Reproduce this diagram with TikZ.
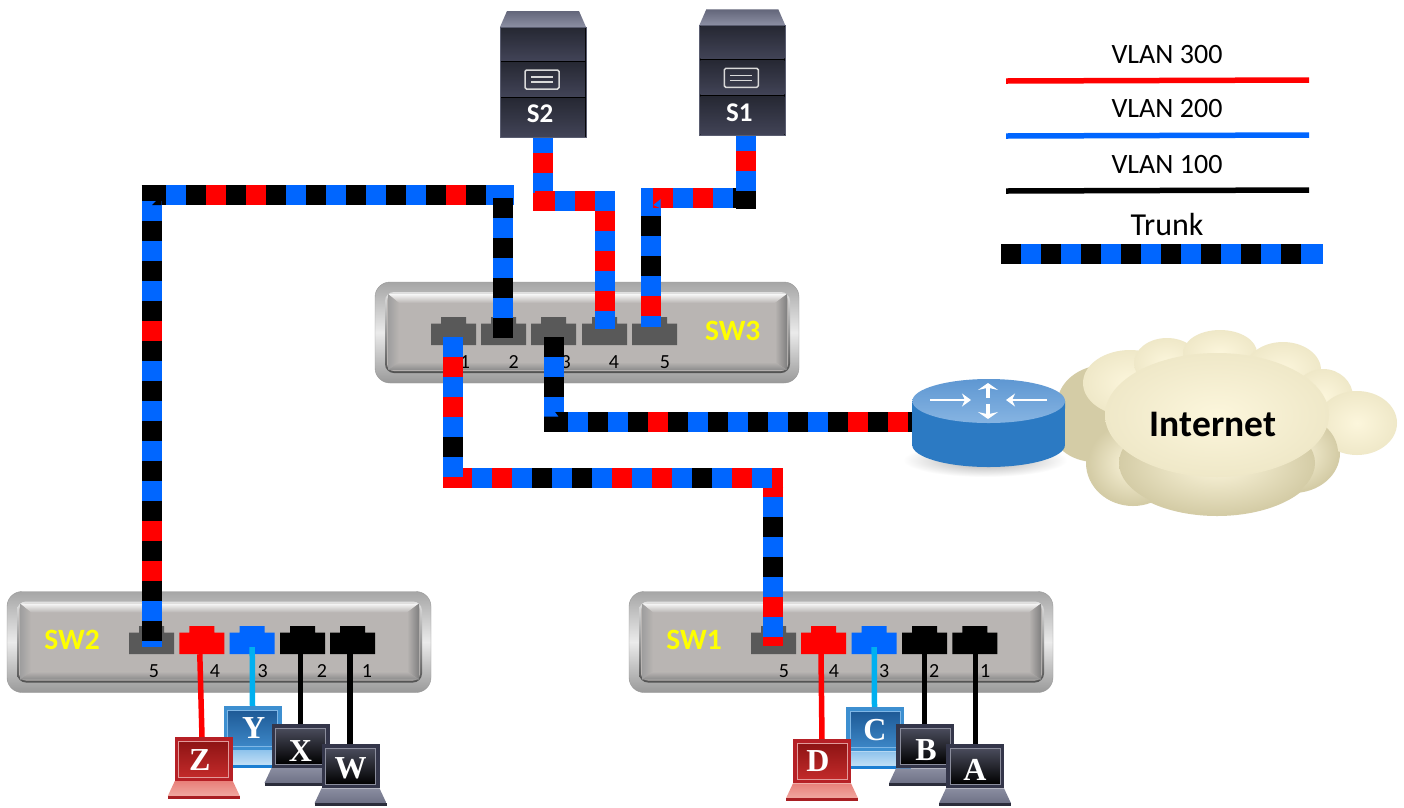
\documentclass[tikz,border=0pt]{standalone}
\usepackage{fontspec}
\setmainfont{Carlito}
\newfontfamily\lapfont{Liberation Serif}
\usepackage{xcolor}
\usepackage{tikz}
\usetikzlibrary{arrows.meta,shapes.geometric}
\definecolor{vk}{HTML}{000000}
\definecolor{vb}{HTML}{0066FF}
\definecolor{vr}{HTML}{FF0000}
\definecolor{vc}{HTML}{00B0F0}
\definecolor{portgrey}{HTML}{595959}
\definecolor{swface}{HTML}{B9B5B3}
\definecolor{swyellow}{HTML}{FFFF00}
\definecolor{cloudedge}{HTML}{D4CCA6}
\definecolor{cloudmid}{HTML}{EFE8C8}
\definecolor{cloudin}{HTML}{FCF6DC}
\definecolor{rtside}{HTML}{2C7AC3}
\definecolor{rtmid}{HTML}{5A9BDB}
\definecolor{rttopa}{HTML}{5E97D2}
\definecolor{rttopb}{HTML}{86B4E2}
\definecolor{srvtopa}{HTML}{63667A}
\definecolor{srvtopb}{HTML}{8C8FA3}
\definecolor{srvedge}{HTML}{5A5D70}
\definecolor{srvband}{HTML}{262833}
\definecolor{srvbandb}{HTML}{414356}
\definecolor{darkframe}{HTML}{34364A}
\definecolor{darkpanelt}{HTML}{4A4C5C}
\definecolor{darkpanelb}{HTML}{000000}
\definecolor{darkedge}{HTML}{8B8D9C}
\definecolor{darkbaset}{HTML}{8A8DA0}
\definecolor{darkbaseb}{HTML}{6E7186}
\definecolor{darkstrip}{HTML}{2B2D3B}
\definecolor{blueframe}{HTML}{3D8FD0}
\definecolor{bluepanelt}{HTML}{1E5A96}
\definecolor{bluepanelb}{HTML}{3C86C6}
\definecolor{blueedge}{HTML}{7FB7E6}
\definecolor{bluebaset}{HTML}{8FC3EC}
\definecolor{bluebaseb}{HTML}{C3E0F6}
\definecolor{bluestrip}{HTML}{1B7ED2}
\definecolor{redframe}{HTML}{B62026}
\definecolor{redpanelt}{HTML}{8E1414}
\definecolor{redpanelb}{HTML}{C22A2A}
\definecolor{rededge}{HTML}{E29A9A}
\definecolor{redbaset}{HTML}{E8807A}
\definecolor{redbaseb}{HTML}{F0A8A0}
\definecolor{redstrip}{HTML}{A81E22}
\tikzset{
  trunkline/.style={line width=20pt},
  accessline/.style={line width=5.5pt},
  legendline/.style={line width=5.5pt},
  legendtext/.style={font=\fontsize{28}{30}\selectfont},
  portbox/.style={inner sep=0pt, minimum width=45pt, minimum height=28pt},
  portnum/.style={font=\fontsize{20}{22}\selectfont, inner sep=0pt},
  swname/.style={font=\fontsize{29.5}{32}\selectfont\bfseries, text=swyellow, inner sep=0pt},
  swbody/.style={rounded corners=15pt, inner sep=0pt, minimum width=424pt, minimum height=101pt,
    draw=black!40, top color=black!35, bottom color=black!40, middle color=black!8},
  srvname/.style={font=\fontsize{27}{30}\selectfont\bfseries, text=white, inner sep=0pt},
  lapscreen/.style={inner sep=0pt, minimum width=58pt, minimum height=44pt},
  lapletter/.style={font=\lapfont\fontsize{32}{34}\selectfont\bfseries, text=white, inner sep=0pt},
  rtarrow/.style={white, line width=2.5pt, -{Stealth[length=9pt,width=13pt]}},
  rtarrowv/.style={white, line width=4pt, -{Stealth[length=7pt,width=20pt]}}
}
% one leg of a trunk: [lead] from, to, colours (20pt each)
\newcommand{\DrawTrunk}[4][0]{%
  \foreach \tkcol [count=\tki from 0] in {#4} {
    \pgfmathsetmacro{\tkoff}{20*\tki}
    \draw[trunkline, draw=\tkcol, dash pattern=on 0pt off \tkoff pt on 20pt off 3000pt, dash phase=#1pt] #2 -- #3;
  }
}
\newcommand{\DrawPort}[4]{% name, left, top, colour
  \begin{scope}[shift={(#2,#3)}]
    \fill[#4] (0,28) -- (0,6.5) -- (10,6.5) -- (10,0) -- (35,0) -- (35,6.5) -- (45,6.5) -- (45,28) -- cycle;
    \node[portbox] (#1) at (22.5,14) {};
  \end{scope}
}
\newcommand{\DrawSwitch}[3]{% name, left, top
  \begin{scope}[shift={(#2,#3)}]
    \node[swbody] (#1) at (212,50.5) {};
    \shade[top color=black!12, bottom color=black!68, rounded corners=9pt] (10,10) rectangle (415,91);
    \fill[swface, rounded corners=7pt] (12,12) rectangle (413,89);
    \shade[top color=white!97!black, bottom color=swface] (13,12) -- (412,12) -- (400,21) -- (24,21) -- cycle;
    \shade[left color=black!38, right color=swface] (13,12) -- (24,21) -- (24,80) -- (13,88) -- cycle;
    \shade[right color=black!50, left color=swface] (412,12) -- (400,21) -- (400,80) -- (412,88) -- cycle;
    \shade[bottom color=black!45, top color=swface] (13,88) -- (24,80) -- (400,80) -- (412,88) -- cycle;
  \end{scope}
}
\newcommand{\DrawLaptop}[6]{% name, centre, top, palette, letter, letter position
  \begin{scope}[shift={(#2,#3)}]
    \shade[top color=#4baset, bottom color=#4baseb] (-29,44) -- (29,44) -- (36,59) -- (-36,59) -- cycle;
    \fill[#4strip] (-36,59) rectangle (36,62);
    \node[lapscreen, fill=#4frame] (#1) at (0,22) {};
    \shade[top color=#4panelt, bottom color=#4panelb, draw=#4edge, line width=0.8pt] (-25,4) rectangle (25,40);
    \node[lapletter] (#1name) at #6 {#5};
  \end{scope}
}
\newcommand{\DrawServer}[4]{% name, left, top, label
  \begin{scope}[shift={(#2,#3)}]
    \shade[top color=srvtopa, bottom color=srvtopb] (7,0) -- (79,0) -- (86,16) -- (0,16) -- cycle;
    \node[inner sep=0pt, minimum width=86pt, minimum height=110pt, fill=black, draw=srvedge] (#1) at (43,71) {};
    \foreach \bandt/\bandb in {17/49, 51/85, 87/125} {
      \shade[top color=srvband, bottom color=srvbandb] (1,\bandt) rectangle (85,\bandb);
    }
    \draw[white!85!black, line width=1.5pt, rounded corners=1.5pt] (25,59) rectangle (59,78);
    \draw[white!85!black, line width=1.2pt] (31,66) -- (53,66) (31,71) -- (53,71);
    \node[srvname] (#1name) at (40,103) {#4};
  \end{scope}
}

\begin{document}
\begin{tikzpicture}[x=1pt,y=-1pt]
  \useasboundingbox (0,0) rectangle (1404,807);
  \fill[white] (0,0) rectangle (1404,807);
  % legend
  \node[legendtext] (l300) at (1167,55) {VLAN 300};
  \node[legendtext] (l200) at (1167,109) {VLAN 200};
  \node[legendtext] (l100) at (1167,165) {VLAN 100};
  \node[legendtext, font=\fontsize{32}{34}\selectfont] (ltrunk) at (1167,224) {Trunk};
  \draw[legendline, draw=vr] (1006,81) -- (1309,80);
  \draw[legendline, draw=vb] (1006,136) -- (1309,135);
  \draw[legendline, draw=vk] (1006,191) -- (1309,190);
  \DrawTrunk{(1001,254)}{(1323,254)}{vk,vb,vk,vb,vk,vb,vk,vb,vk,vb,vk,vb,vk,vb,vk,vb,vb}
  % switches
  \DrawSwitch{sw3}{375}{282}
  \DrawSwitch{sw2}{7}{591.5}
  \DrawSwitch{sw1}{629}{591.5}
  \node[swname] (sw3name) at (732.7,331) {SW3};
  \node[swname] (sw2name) at (72,640) {SW2};
  \node[swname] (sw1name) at (694,640) {SW1};
  \foreach \pn/\px in {1/431,2/481,3/531,4/582,5/632} {
    \DrawPort{sw3p\pn}{\px}{317}{portgrey}
  }
  \DrawPort{sw2p5}{129}{626}{portgrey}
  \DrawPort{sw2p4}{179.3}{626}{vr}
  \DrawPort{sw2p3}{229.7}{626}{vb}
  \DrawPort{sw2p2}{280}{626}{vk}
  \DrawPort{sw2p1}{330}{626}{vk}
  \DrawPort{sw1p5}{751}{626}{portgrey}
  \DrawPort{sw1p4}{801}{626}{vr}
  \DrawPort{sw1p3}{851.7}{626}{vb}
  \DrawPort{sw1p2}{902}{626}{vk}
  \DrawPort{sw1p1}{952.3}{626}{vk}
  \foreach \pn/\px in {1/465,2/513.7,3/565.7,4/614,5/665} {
    \node[portnum] (sw3n\pn) at (\px,362) {\pn};
  }
  \foreach \pn/\px in {1/367,2/322,3/262.7,4/215,5/154} {
    \node[portnum] (sw2n\pn) at (\px,671) {\pn};
  }
  \foreach \pn/\px in {1/985.3,2/934.3,3/884.3,4/834,5/784} {
    \node[portnum] (sw1n\pn) at (\px,671) {\pn};
  }
  % laptops and their access links
  \coordinate (ytop) at (252.5,706);
  \coordinate (ctop) at (874.5,707);
  \draw[accessline, draw=vr] ([xshift=-2pt]sw2p4.south) -- (202,737);
  \draw[accessline, draw=vc] ([yshift=7pt]sw2p3.south) -- (ytop);
  \draw[accessline, draw=vk] (300.7,654) -- (300.7,724);
  \draw[accessline, draw=vk] (350,654) -- (350,745);
  \draw[accessline, draw=vr] (821,654) -- (822,740);
  \draw[accessline, draw=vc] ([yshift=7pt]sw1p3.south) -- (ctop);
  \draw[accessline, draw=vk] (sw1p2.south) -- (924.5,724);
  \draw[accessline, draw=vk] (975.5,654) -- (975.5,745);
  \DrawLaptop{y}{252.8}{706}{blue}{Y}{(1,22)}
  \DrawLaptop{z}{203.8}{737}{red}{Z}{(-4,23)}
  \DrawLaptop{x}{300.5}{724}{dark}{X}{(0,27)}
  \DrawLaptop{w}{350.5}{744.3}{dark}{W}{(0,24)}
  \DrawLaptop{c}{875}{707.3}{blue}{C}{(0,23)}
  \DrawLaptop{d}{822}{739.3}{red}{D}{(-4,22)}
  \DrawLaptop{b}{925}{724.3}{dark}{B}{(1,26)}
  \DrawLaptop{a}{975}{744.3}{dark}{A}{(0,26)}
  % trunk SW2 port 5 to SW3 port 2
  \DrawTrunk[15.5]{(141.5,195)}{(513.5,195)}{vk,vk,vb,vk,vr,vk,vr,vk,vb,vk,vb,vk,vb,vk,vb,vk,vr,vk,vb,vb}
  \DrawTrunk{(151.5,201)}{(151.5,647)}{vb,vk,vb,vk,vb,vk,vr,vk,vb,vk,vb,vk,vb,vk,vb,vk,vr,vk,vr,vk,vb,vk,vb}
  \fill[vk] (156,201) -- (161.5,201) -- (161.5,205) -- (152,205) -- cycle;
  \DrawTrunk{(503.3,198)}{(503.3,338)}{vk,vb,vk,vb,vk,vb,vk}
  % trunk S2 to SW3 port 4
  \DrawTrunk[4]{(543.3,137)}{(543.3,211)}{vb,vr,vb,vr}
  \DrawTrunk{(535,201)}{(615,201)}{vr,vb,vr,vb}
  \DrawTrunk{(605,191)}{(605,329)}{vb,vr,vb,vr,vb,vr,vb}
  % trunk S1 to SW3 port 5
  \DrawTrunk{(650.7,196)}{(650.7,327)}{vb,vk,vb,vk,vb,vr,vb}
  \DrawTrunk{(753,198.3)}{(640.5,198.3)}{vk,vb,vr,vb,vr,vb}
  \fill[vb] (653.3,205) -- (660.7,199) -- (660.7,208.3) -- cycle;
  \DrawTrunk[4]{(746,135)}{(746,208.5)}{vb,vr,vb,vk}
  % trunk SW3 port 1 to SW1 port 5
  \DrawTrunk{(773.3,477)}{(773.3,646)}{vr,vb,vk,vb,vk,vb,vr,vb,vr}
  \DrawTrunk[8.7]{(783.3,478)}{(443,478)}{vr,vb,vr,vb,vk,vb,vr,vb,vr,vb,vk,vb,vk,vb,vr,vb,vr,vr}
  \DrawTrunk{(453.2,337)}{(453.2,477)}{vb,vr,vb,vr,vb,vk,vb}
  % trunk SW3 port 3 to router
  \DrawTrunk{(928,422)}{(544,422)}{vk,vr,vk,vr,vk,vb,vk,vb,vk,vb,vk,vb,vk,vr,vk,vb,vk,vb,vk,vk}
  \DrawTrunk{(554,337)}{(554,412)}{vk,vb,vk,vb}
  \fill[vb] (544,412) -- (555,412) -- (558.3,416.5) -- (544,416.5) -- cycle;
  % servers
  \DrawServer{s2}{500}{11}{S2}
  \DrawServer{s1}{699.3}{9.3}{S1}
  % cloud
  \foreach \cx/\cy/\crx/\cry in {1095/425/45/37,1105/405/48/40,1293/453/47/40,1217/463/100/53,1133/463/47/43} {
    \fill[cloudedge] (\cx,\cy) ellipse [x radius=\crx pt, y radius=\cry pt];
  }
  \foreach \cx/\cy/\crx/\cry in {1130/383/47/33,1167/363/33/25,1220/353/37/23,
      1283/370/38/28,1323/397/30/28,1357/423/40/32} {
    \shade[inner color=cloudin, outer color=cloudmid] (\cx,\cy) ellipse [x radius=\crx pt, y radius=\cry pt];
  }
  \foreach \cx/\cy/\crx/\cry in {1293/453/45/38,1133/463/45/41,1217/463/98/51} {
    \shade[inner color=cloudin, outer color=cloudedge] (\cx,\cy) ellipse [x radius=\crx pt, y radius=\cry pt];
  }
  \shade[inner color=cloudin, outer color=cloudmid] (1217,415) ellipse [x radius=112pt, y radius=62pt];
  \node[font=\fontsize{37.5}{40}\selectfont\bfseries, inner sep=0pt] (inet) at (1213,424) {Internet};
  % router
  \shade[inner color=black!35, outer color=white] (985,460) ellipse [x radius=82pt, y radius=17pt];
  \shade[left color=rtside, middle color=rtmid, right color=rtside]
    (912.3,401) -- (912.3,445) arc [start angle=180, end angle=360, x radius=76.3pt, y radius=22pt] -- (1065,401) -- cycle;
  \node[ellipse, inner sep=0pt, minimum width=152.6pt, minimum height=44pt, top color=rttopa, bottom color=rttopb] (rt) at (988.7,401) {};
  \draw[rtarrow] (930,400) -- (971,400);
  \draw[rtarrow] (1047,400) -- (1006,400);
  \draw[rtarrowv] (988,398) -- (988,383);
  \draw[rtarrowv] (988,404) -- (988,419);
\end{tikzpicture}
\end{document}
